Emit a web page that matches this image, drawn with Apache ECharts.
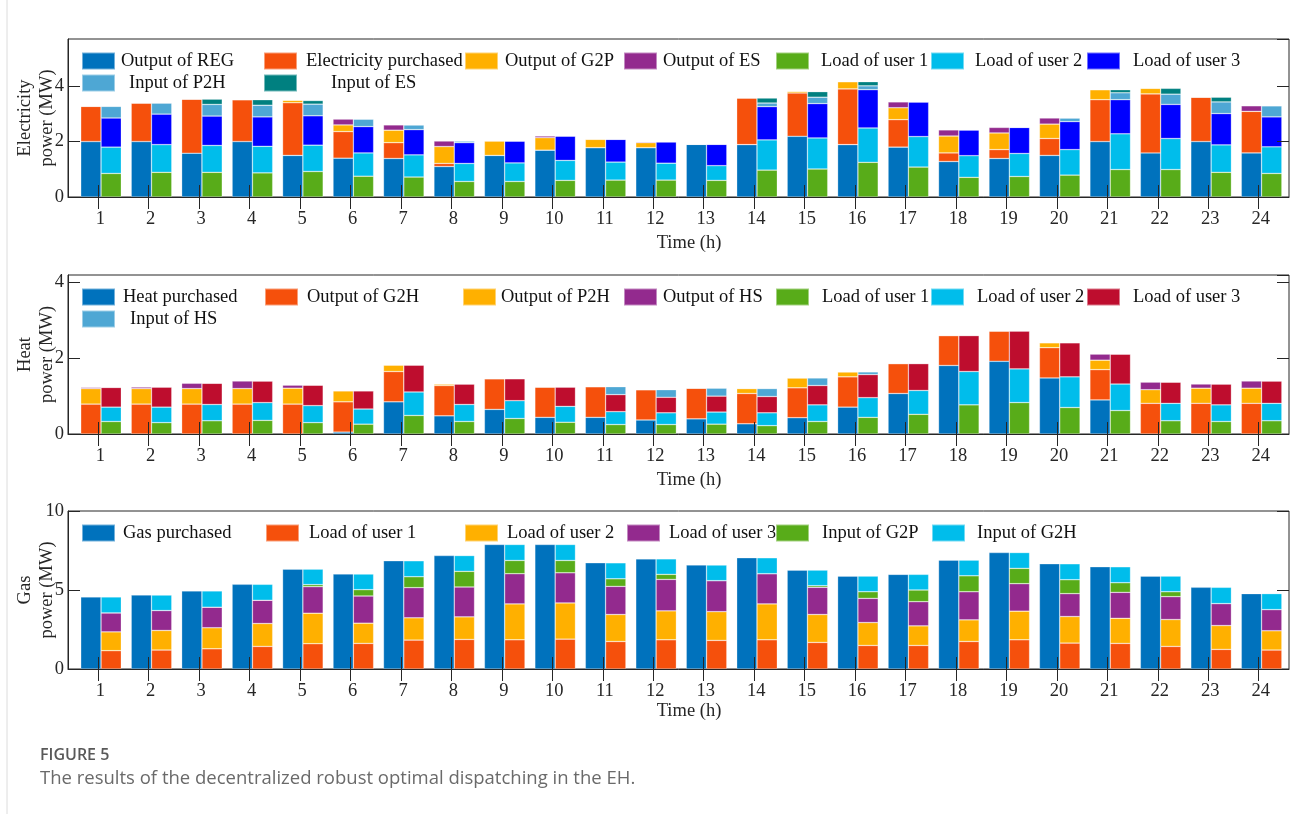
<!DOCTYPE html>
<html>
<head>
<meta charset="utf-8">
<title>Figure 5</title>
<script src="https://cdn.jsdelivr.net/npm/echarts@6.0.0/dist/echarts.min.js"></script>
<style>
  html, body { margin: 0; padding: 0; background: #fff; }
  #chart { width: 1290px; height: 814px; }
</style>
</head>
<body>
<div id="chart"></div>
<script>
const hours = [1, 2, 3, 4, 5, 6, 7, 8, 9, 10, 11, 12, 13, 14, 15, 16, 17, 18, 19, 20, 21, 22, 23, 24];

// electricity (MW) - supply side
const regOut  = [2.0, 2.0, 1.58, 2.0, 1.5, 1.4, 1.39, 1.1, 1.5, 1.69, 1.78, 1.78, 1.9, 1.89, 2.19, 1.89, 1.8, 1.28, 1.39, 1.5, 2.0, 1.59, 2.0, 1.59];
const elecBuy = [1.27, 1.39, 1.95, 1.51, 1.9, 0.96, 0.57, 0.11, 0, 0, 0, 0, 0, 1.68, 1.56, 2.01, 0.99, 0.31, 0.32, 0.61, 1.51, 2.13, 1.6, 1.5];
const g2pOut  = [0, 0, 0, 0, 0.09, 0.24, 0.45, 0.61, 0.52, 0.45, 0.3, 0.18, 0, 0, 0.06, 0.26, 0.43, 0.61, 0.6, 0.52, 0.36, 0.2, 0, 0];
const esOut   = [0, 0, 0, 0, 0, 0.21, 0.19, 0.2, 0, 0.06, 0, 0.03, 0, 0, 0, 0, 0.21, 0.22, 0.2, 0.22, 0, 0, 0, 0.2];
// electricity (MW) - demand side
const eLoad1 = [0.85, 0.89, 0.89, 0.87, 0.92, 0.75, 0.72, 0.56, 0.56, 0.6, 0.61, 0.61, 0.6, 0.97, 1.01, 1.25, 1.08, 0.71, 0.74, 0.79, 0.99, 0.99, 0.89, 0.85];
const eLoad2 = [0.95, 1.0, 0.97, 0.96, 0.95, 0.84, 0.8, 0.65, 0.67, 0.72, 0.65, 0.61, 0.53, 1.09, 1.12, 1.24, 1.1, 0.78, 0.83, 0.92, 1.29, 1.12, 0.99, 0.96];
const eLoad3 = [1.05, 1.1, 1.06, 1.06, 1.06, 0.95, 0.91, 0.75, 0.79, 0.88, 0.82, 0.77, 0.77, 1.2, 1.24, 1.38, 1.25, 0.93, 0.94, 1.01, 1.23, 1.23, 1.13, 1.08];
const p2hIn  = [0.42, 0.4, 0.42, 0.42, 0.42, 0.27, 0.17, 0.06, 0, 0, 0, 0, 0, 0.13, 0.23, 0.14, 0, 0, 0, 0.13, 0.25, 0.37, 0.42, 0.4];
const esIn   = [0, 0, 0.19, 0.2, 0.13, 0, 0, 0, 0, 0, 0, 0, 0, 0.18, 0.2, 0.15, 0, 0, 0, 0, 0.11, 0.21, 0.17, 0];

// heat (MW)
const heatBuy = [0, 0, 0, 0, 0, 0.05, 0.85, 0.48, 0.65, 0.44, 0.44, 0.37, 0.4, 0.27, 0.43, 0.71, 1.07, 1.81, 1.92, 1.48, 0.9, 0, 0, 0];
const g2hOut  = [0.79, 0.79, 0.79, 0.79, 0.79, 0.8, 0.8, 0.8, 0.81, 0.8, 0.81, 0.8, 0.81, 0.8, 0.79, 0.8, 0.79, 0.79, 0.8, 0.8, 0.8, 0.81, 0.81, 0.81];
const p2hOut  = [0.41, 0.41, 0.41, 0.41, 0.42, 0.29, 0.17, 0.04, 0, 0, 0, 0, 0, 0.13, 0.26, 0.13, 0, 0, 0, 0.13, 0.25, 0.36, 0.4, 0.4];
const hsOut   = [0.03, 0.04, 0.14, 0.2, 0.08, 0, 0, 0, 0, 0, 0, 0, 0, 0, 0, 0, 0, 0, 0, 0, 0.16, 0.2, 0.11, 0.19];
const hLoad1 = [0.33, 0.3, 0.35, 0.36, 0.3, 0.26, 0.49, 0.33, 0.41, 0.31, 0.25, 0.25, 0.26, 0.22, 0.33, 0.44, 0.52, 0.77, 0.83, 0.7, 0.62, 0.35, 0.33, 0.35];
const hLoad2 = [0.38, 0.41, 0.43, 0.47, 0.45, 0.4, 0.62, 0.45, 0.47, 0.42, 0.34, 0.31, 0.32, 0.34, 0.44, 0.52, 0.63, 0.88, 0.89, 0.81, 0.7, 0.46, 0.44, 0.46];
const hLoad3 = [0.52, 0.53, 0.56, 0.57, 0.54, 0.48, 0.71, 0.54, 0.58, 0.51, 0.45, 0.41, 0.42, 0.43, 0.51, 0.61, 0.71, 0.95, 1.0, 0.9, 0.79, 0.56, 0.55, 0.59];
const hsIn   = [0, 0, 0, 0, 0, 0, 0, 0, 0, 0, 0.21, 0.2, 0.21, 0.21, 0.2, 0.07, 0, 0, 0, 0, 0, 0, 0, 0];

// gas (MW)
const gasBuy = [4.56, 4.68, 4.94, 5.36, 6.32, 6.01, 6.85, 7.18, 7.88, 7.88, 6.72, 6.97, 6.58, 7.04, 6.26, 5.88, 5.99, 6.89, 7.37, 6.66, 6.47, 5.88, 5.17, 4.77];
const gLoad1 = [1.16, 1.2, 1.28, 1.43, 1.6, 1.62, 1.83, 1.87, 1.85, 1.89, 1.74, 1.85, 1.81, 1.85, 1.68, 1.49, 1.49, 1.74, 1.85, 1.64, 1.62, 1.43, 1.24, 1.2];
const gLoad2 = [1.19, 1.24, 1.33, 1.45, 1.93, 1.28, 1.41, 1.43, 2.27, 2.29, 1.71, 1.83, 1.82, 2.27, 1.77, 1.45, 1.24, 1.37, 1.81, 1.68, 1.59, 1.7, 1.51, 1.22];
const gLoad3 = [1.2, 1.26, 1.3, 1.47, 1.68, 1.72, 1.91, 1.89, 1.91, 1.91, 1.78, 1.99, 1.96, 1.91, 1.72, 1.53, 1.53, 1.78, 1.74, 1.45, 1.64, 1.45, 1.39, 1.34];
const g2pIn  = [0, 0, 0, 0, 0.13, 0.4, 0.69, 0.99, 0.84, 0.78, 0.48, 0.32, 0, 0, 0.1, 0.42, 0.74, 1.01, 0.97, 0.88, 0.61, 0.31, 0, 0];
const g2hIn  = [1.01, 0.98, 1.03, 1.01, 0.98, 0.99, 1.01, 1.0, 1.01, 1.01, 1.01, 0.98, 0.99, 1.01, 0.99, 0.99, 0.99, 0.99, 1.0, 1.01, 1.01, 0.99, 1.03, 1.01];

const FONT = '"Liberation Serif", "Times New Roman", serif';
const INK = '#262626';
const C = {
    blue: '#0072BD', orange: '#F5500C', amber: '#FFB000', purple: '#932A8E',
    green: '#58AC19', cyan: '#00BDEB', pure: '#0000FF', crimson: '#BE0D2E',
    sky: '#4EA7D4', teal: '#008080',
};

// series: [label, values, stack side, colour]; legend: [left x, centre y, text offset]
const panels = [
    {
        top: 39, height: 158, max: 5.7, interval: 2, yName: 'Electricity\npower (MW)', nameGap: 37,
        series: [
            ['Output of REG', regOut, 'L', C.blue],
            ['Electricity purchased', elecBuy, 'L', C.orange],
            ['Output of G2P', g2pOut, 'L', C.amber],
            ['Output of ES', esOut, 'L', C.purple],
            ['Load of user 1', eLoad1, 'R', C.green],
            ['Load of user 2', eLoad2, 'R', C.cyan],
            ['Load of user 3', eLoad3, 'R', C.pure],
            ['Input of P2H', p2hIn, 'R', C.sky],
            ['Input of ES', esIn, 'R', C.teal],
        ],
        legend: [[81, 60, 6], [263, 60, 9], [464, 60, 7], [623, 60, 6], [775, 60, 12], [930, 60, 11], [1086, 60, 13], [81, 82, 14], [263, 82, 34]],
    },
    {
        top: 275, height: 159, max: 4.2, interval: 2, yName: 'Heat\npower (MW)', nameGap: 37,
        series: [
            ['Heat purchased', heatBuy, 'L', C.blue],
            ['Output of G2H', g2hOut, 'L', C.orange],
            ['Output of P2H', p2hOut, 'L', C.amber],
            ['Output of HS', hsOut, 'L', C.purple],
            ['Load of user 1', hLoad1, 'R', C.green],
            ['Load of user 2', hLoad2, 'R', C.cyan],
            ['Load of user 3', hLoad3, 'R', C.crimson],
            ['Input of HS', hsIn, 'R', C.sky],
        ],
        legend: [[81, 296, 8], [264, 296, 9], [462, 296, 5], [623, 296, 6], [775, 296, 13], [930, 296, 13], [1086, 296, 13], [81, 318, 15]],
    },
    {
        top: 511, height: 158, max: 10, interval: 5, yName: 'Gas\npower (MW)', nameGap: 31,
        series: [
            ['Gas purchased', gasBuy, 'L', C.blue],
            ['Load of user 1', gLoad1, 'R', C.orange],
            ['Load of user 2', gLoad2, 'R', C.amber],
            ['Load of user 3', gLoad3, 'R', C.purple],
            ['Input of G2P', g2pIn, 'R', C.green],
            ['Input of G2H', g2hIn, 'R', C.cyan],
        ],
        legend: [[81, 532, 8], [265, 532, 10], [464, 532, 9], [626, 532, 9], [775, 532, 13], [931, 532, 12]],
    },
];

const grid = [], xAxis = [], yAxis = [], series = [], legend = [];
const tickStyle = { show: true, inside: true, length: 12, lineStyle: { color: INK } };
const labelFont = { fontFamily: FONT, fontSize: 18.5, color: INK };

panels.forEach((p, i) => {
    // frame grid (box, ticks, labels) and bar grid (category band)
    grid.push({
        left: 68, width: 1221, top: p.top, height: p.height, outerBoundsMode: 'none', containLabel: false,
        show: true, borderColor: INK, borderWidth: 1, backgroundColor: 'transparent',
    });
    grid.push({ left: 75.8, width: 1211, top: p.top, height: p.height, outerBoundsMode: 'none', containLabel: false });
    const gA = 2 * i, gB = 2 * i + 1;

    xAxis.push({
        gridIndex: gA, type: 'value', min: 0.4, max: 24.6, position: 'bottom', z: 5,
        axisLine: { show: true, lineStyle: { color: INK, width: 1 } },
        axisTick: Object.assign({ customValues: hours }, tickStyle),
        axisLabel: Object.assign({ customValues: hours, margin: 13, padding: [0, 0, 0, 4] }, labelFont),
        splitLine: { show: false },
        name: 'Time (h)', nameLocation: 'middle', nameGap: p.nameGap,
        nameTextStyle: Object.assign({ padding: [0, 0, 0, 21] }, labelFont),
    });
    xAxis.push({
        gridIndex: gA, type: 'value', min: 0.4, max: 24.6, position: 'top', z: 5,
        axisLine: { show: false },
        axisTick: Object.assign({ customValues: hours }, tickStyle),
        axisLabel: { show: false }, splitLine: { show: false },
    });
    xAxis.push({ gridIndex: gB, type: 'category', data: hours, show: false });

    yAxis.push({
        gridIndex: gA, type: 'value', min: 0, max: p.max, interval: p.interval, position: 'left', z: 5,
        axisLine: { show: true, lineStyle: { color: INK, width: 1 } },
        axisTick: tickStyle,
        axisLabel: Object.assign({ margin: 4, showMaxLabel: p.max % p.interval === 0 }, labelFont),
        splitLine: { show: false },
        name: p.yName, nameLocation: 'middle', nameRotate: 90, nameGap: 10, nameMoveOverlap: false,
        nameTextStyle: Object.assign({ lineHeight: 22, align: 'center' }, labelFont),
    });
    yAxis.push({
        gridIndex: gA, type: 'value', min: 0, max: p.max, interval: p.interval, position: 'right', z: 5,
        axisLine: { show: false }, axisTick: tickStyle,
        axisLabel: { show: false }, splitLine: { show: false },
    });
    yAxis.push({ gridIndex: gB, type: 'value', min: 0, max: p.max, show: false });

    p.series.forEach(([label, values, side, color], j) => {
        const name = label + '|' + i;
        series.push({
            name, type: 'bar', xAxisIndex: 3 * i + 2, yAxisIndex: 3 * i + 2,
            stack: side + i, barWidth: 20.3, barGap: '0%',
            data: values,
            itemStyle: { color, borderColor: 'rgba(255,255,255,0.45)', borderWidth: 0.6 },
            emphasis: { disabled: true },
        });
        const [lx, ly, off] = p.legend[j];
        legend.push({
            data: [{ name, icon: 'rect' }],
            left: lx, top: ly - 8.5, padding: 0,
            itemWidth: 33, itemHeight: 17, selectedMode: false,
            formatter: (n) => n.split('|')[0],
            textStyle: { fontFamily: FONT, fontSize: 18.5, color: '#111', padding: [0, 0, 0, off - 5] },
        });
    });
});

const chart = echarts.init(document.getElementById('chart'), null, { renderer: 'canvas' });
chart.setOption({
    backgroundColor: '#fff',
    animation: false,
    grid, xAxis, yAxis, series, legend,
    graphic: [
        { type: 'line', shape: { x1: 7, y1: 0, x2: 7, y2: 814 }, style: { stroke: '#dcdcdc', lineWidth: 1 } },
        { type: 'text', left: 40, top: 747, style: { text: 'FIGURE 5', font: '600 16px "Open Sans", sans-serif', fill: '#595959' } },
        { type: 'text', left: 40, top: 769, style: { text: 'The results of the decentralized robust optimal dispatching in the EH.', font: '18.5px "Open Sans", sans-serif', fill: '#6a6a6a' } },
    ],
});
</script>
</body>
</html>
